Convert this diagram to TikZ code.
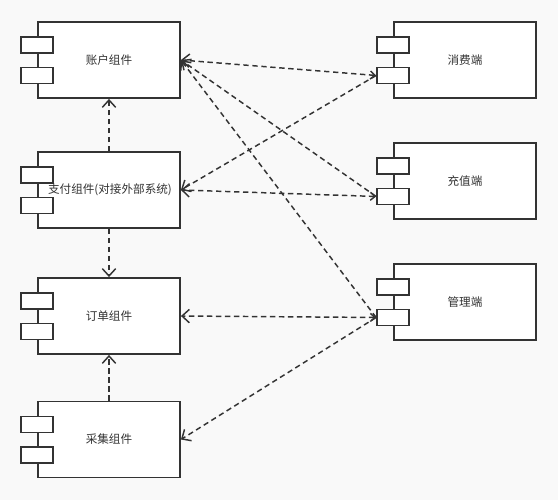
\documentclass[tikz,border=0pt]{standalone}
\usepackage{fontspec}
\newfontfamily\cjk{Noto Sans CJK SC}
\usetikzlibrary{arrows.meta,positioning}
\definecolor{bgc}{HTML}{F9F9F9}
\definecolor{ln}{HTML}{333333}
\begin{document}
\begin{tikzpicture}[x=0.75pt,y=-0.75pt,font=\cjk\fontsize{8.7}{10}\selectfont,c/.style={draw=ln,line width=1.4pt,fill=white,minimum width=106.5pt,minimum height=57pt,inner sep=0pt,text=ln},p/.style={draw=ln,line width=1.4pt,fill=white,minimum width=24pt,minimum height=12pt,inner sep=0pt},a/.style={-{Straight Barb[length=5.5pt,width=10pt]},line width=1.1pt,ln,dash pattern=on 4pt off 2.75pt},aa/.style={{Straight Barb[length=3.5pt,width=6pt]}-{Straight Barb[length=5.5pt,width=10pt]},line width=1.1pt,ln,dash pattern=on 4pt off 2.75pt}]
\fill[bgc] (0,0) rectangle (558,500);
% left column
\node[c] (zh) at (109,60) {账户组件};
\node[c] (zf) at (109,190) {\hspace*{1.5pt}支付组件(对接外部系统)};
\node[c] (dd) at (109,316) {订单组件};
\node[c] (cj) at (109,439.5) {采集组件};
% right column
\node[c] (xf) at (465,60) {消费端};
\node[c] (cz) at (465,181) {充值端};
\node[c] (gl) at (465,302) {管理端};
% ports
\foreach \n in {zh,zf,dd,cj,xf,cz,gl}{
\node[p] (\n1) at ([yshift=11.25pt]\n.west) {};
\node[p] (\n2) at ([yshift=-11.6pt]\n.west) {};
}
% dependencies
\draw[a](zf.north)--(zh.south);
\draw[a](zf.south)--(dd.north);
\draw[a](cj.north)--(dd.south);
\draw[aa](xf2.west)--(zh.east);
\draw[a](xf2.west)--(zf.east);
\draw[a](cz2.west)--(zh.east);
\draw[aa](cz2.west)--(zf.east);
\draw[a](gl2.west)--(zh.east);
\draw[aa](gl2.west)--(dd.east);
\draw[a](gl2.west)--(cj.east);
\end{tikzpicture}
\end{document}
